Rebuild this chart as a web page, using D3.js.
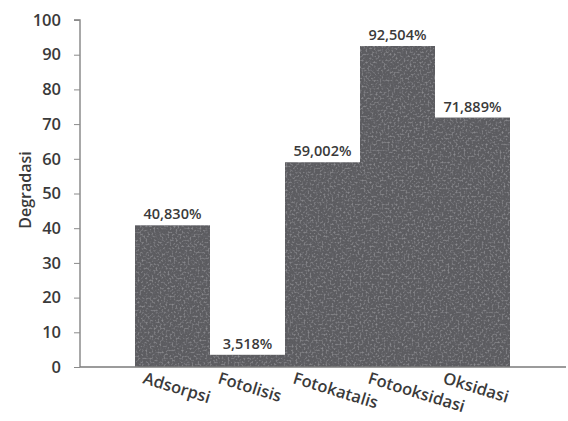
<!DOCTYPE html>
<html>
<head>
<meta charset="utf-8">
<script src="https://cdn.jsdelivr.net/npm/d3@7"></script>
<style>
  html, body { margin: 0; padding: 0; background: #fff; }
  svg { display: block; }
  text { font-family: "Open Sans", "Noto Sans", sans-serif; fill: #3a3a3a; }
</style>
</head>
<body>
<svg id="chart" width="568" height="421"></svg>
<script>
// Degradation by process (%)
const categories = ["Adsorpsi", "Fotolisis", "Fotokatalis", "Fotooksidasi", "Oksidasi"];
const values = [40.830, 3.518, 59.002, 92.504, 71.889];
const valueLabels = ["40,830%", "3,518%", "59,002%", "92,504%", "71,889%"];
const yTicks = [0, 10, 20, 30, 40, 50, 60, 70, 80, 90, 100];

const svg = d3.select("#chart");

// soft mottled fill for the bars
const defs = svg.append("defs");
const grain = defs.append("filter").attr("id", "grain")
  .attr("x", 0).attr("y", 0).attr("width", 1).attr("height", 1);
grain.append("feTurbulence").attr("type", "fractalNoise")
  .attr("baseFrequency", 0.5).attr("numOctaves", 2).attr("seed", 11).attr("result", "noise");
grain.append("feColorMatrix").attr("in", "noise").attr("type", "matrix")
  .attr("values", "0 0 0 0 0.72  0 0 0 0 0.72  0 0 0 0 0.75  0 0 0 1.3 -0.62")
  .attr("result", "specks");
grain.append("feGaussianBlur").attr("in", "specks").attr("stdDeviation", 0.7).attr("result", "soft");
grain.append("feComponentTransfer").attr("in", "soft").attr("result", "faint")
  .append("feFuncA").attr("type", "linear").attr("slope", 0.55);
grain.append("feComposite").attr("in", "faint").attr("in2", "SourceGraphic").attr("operator", "in").attr("result", "sp");
grain.append("feMerge").selectAll("feMergeNode").data(["SourceGraphic", "sp"]).join("feMergeNode").attr("in", d => d);

const x0 = 80, yTop = 20, yBottom = 367;

const y = d3.scaleLinear().domain([0, 100]).range([yBottom, yTop]);
const x = d3.scaleBand().domain(categories).range([135, 510]).padding(0);

// bars
svg.append("g").selectAll("rect").data(values).join("rect")
  .attr("x", (d, i) => x(categories[i]))
  .attr("y", d => y(d))
  .attr("width", x.bandwidth())
  .attr("height", d => y(0) - y(d))
  .attr("fill", "#5c5c61")
  .attr("filter", "url(#grain)");

// y axis
const yAxis = d3.axisLeft(y).tickValues(yTicks).tickSize(6).tickPadding(13).tickFormat(d3.format("d"));
const gy = svg.append("g").attr("transform", `translate(${x0},0)`).call(yAxis);
gy.select(".domain").attr("stroke", "#7a7a7a").attr("stroke-width", 1.3).attr("d", `M-6,${yTop}H0V${yBottom}`);
gy.selectAll(".tick line").attr("stroke", "#8a8a8a");
gy.selectAll(".tick text").attr("font-size", 16.5).attr("font-weight", 600)
  .attr("fill", "#444").style("font-family", "'Open Sans', sans-serif");

// x axis line
svg.append("line").attr("x1", x0).attr("x2", 566).attr("y1", yBottom).attr("y2", yBottom)
  .attr("stroke", "#7a7a7a").attr("stroke-width", 1.5);

// category labels, rotated
svg.append("g").selectAll("text").data(categories).join("text")
  .attr("transform", d => `translate(${x(d) + 7},${yBottom + 16}) rotate(17)`)
  .attr("font-size", 16.5).attr("font-weight", 600).attr("fill", "#444")
  .text(d => d);

// value labels
svg.append("g").selectAll("text").data(values).join("text")
  .attr("x", (d, i) => x(categories[i]) + x.bandwidth() / 2)
  .attr("y", d => y(d) - 6)
  .attr("text-anchor", "middle")
  .attr("font-size", 14.5).attr("font-weight", 600).attr("fill", "#444")
  .text((d, i) => valueLabels[i]);

// y axis title
svg.append("text")
  .attr("transform", `translate(31,190) rotate(-90)`)
  .attr("text-anchor", "middle")
  .attr("font-size", 16).attr("font-weight", 600).attr("fill", "#333")
  .text("Degradasi");
</script>
</body>
</html>
